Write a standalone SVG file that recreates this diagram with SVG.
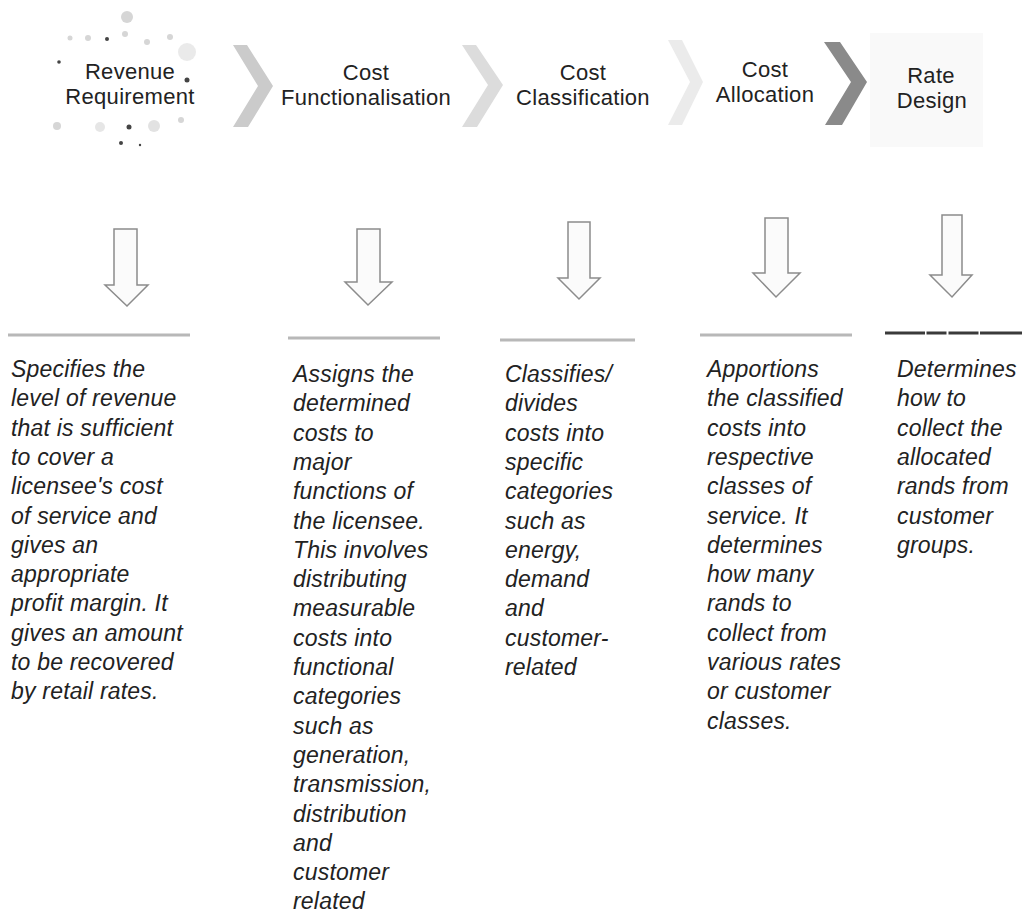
<svg xmlns="http://www.w3.org/2000/svg" width="1034" height="915" viewBox="0 0 1034 915">
<style>
.h{font-family:"Liberation Sans",Arial,sans-serif;font-size:22px;fill:#222;text-anchor:middle;letter-spacing:0.3px}
.d{font-family:"Liberation Sans",Arial,sans-serif;font-size:23px;font-style:italic;fill:#222;letter-spacing:0.2px}
.arr{fill:#fbfbfb;stroke:#8c8c8c;stroke-width:1.5;stroke-linejoin:miter}
.rule{stroke:#b8b8b8;stroke-width:3}
.dot{fill:#d6d6d6}
.dk{fill:#444}
</style>
<rect width="1034" height="915" fill="#fff"/>

<g id="decor-revenue">
  <circle class="dot" cx="127" cy="17" r="6"/>
  <circle class="dot" cx="70" cy="38" r="2.5"/>
  <circle class="dot" cx="88" cy="38" r="3"/>
  <circle class="dk" cx="107" cy="39" r="2"/>
  <circle class="dot" cx="125" cy="34" r="3"/>
  <circle class="dot" cx="147" cy="42" r="3"/>
  <circle class="dot" cx="170" cy="37" r="3"/>
  <circle class="dot" cx="187" cy="52" r="9" opacity="0.5"/>
  <circle class="dk" cx="59" cy="62" r="1.8"/>
  <circle class="dk" cx="187" cy="80" r="2.5"/>
  <circle class="dot" cx="57" cy="126" r="4"/>
  <circle class="dot" cx="100" cy="127" r="5" opacity="0.6"/>
  <circle class="dk" cx="129" cy="127" r="2.5"/>
  <circle class="dot" cx="154" cy="126" r="6" opacity="0.7"/>
  <circle class="dot" cx="181" cy="120" r="3"/>
  <circle class="dk" cx="121" cy="143" r="2"/>
  <circle class="dk" cx="140" cy="145" r="1.2"/>
</g>
<rect x="870" y="33" width="113" height="114" fill="#f9f9f9"/>

<g id="connectors">
  <polygon points="233,45 247,45 273,86 248,127 233,127 258,86" fill="#cbcbcb"/>
  <polygon points="462,45 476,45 503,85 477,127 462,127 488,85" fill="#dcdcdc"/>
  <polygon points="668,40 682,40 703,82 682,125 668,125 690,82" fill="#ebebeb"/>
  <polygon points="824,42 840,42 867,82 842,125 825,125 851,82" fill="#8a8a8a"/>
  <path class="arr" d="M114,229 H137 V285 H148 L127,306 L105,285 H114 Z"/>
  <path class="arr" d="M357,229 H380 V282 H392 L368,305 L345,282 H357 Z"/>
  <path class="arr" d="M568,222 H590 V278 H600 L579,299 L558,278 H568 Z"/>
  <path class="arr" d="M765,218 H788 V273 H800 L776,297 L753,273 H765 Z"/>
  <path class="arr" d="M942,215 H962 V275 H972 L952,297 L930,275 H942 Z"/>
</g>

<g id="node-revenue">
  <text class="h" x="130" y="79">Revenue</text>
  <text class="h" x="130" y="104">Requirement</text>
  <line class="rule" x1="8" y1="335" x2="190" y2="335"/>
  <text class="d" x="11" y="377">Specifies the</text>
  <text class="d" x="11" y="406.3">level of revenue</text>
  <text class="d" x="11" y="435.6">that is sufficient</text>
  <text class="d" x="11" y="464.9">to cover a</text>
  <text class="d" x="11" y="494.2">licensee's cost</text>
  <text class="d" x="11" y="523.5">of service and</text>
  <text class="d" x="11" y="552.8">gives an</text>
  <text class="d" x="11" y="582.1">appropriate</text>
  <text class="d" x="11" y="611.4">profit margin. It</text>
  <text class="d" x="11" y="640.7">gives an amount</text>
  <text class="d" x="11" y="670">to be recovered</text>
  <text class="d" x="11" y="699.3">by retail rates.</text>
</g>

<g id="node-functionalisation">
  <text class="h" x="366" y="80">Cost</text>
  <text class="h" x="366" y="105">Functionalisation</text>
  <line class="rule" x1="288" y1="338" x2="440" y2="338"/>
  <text class="d" x="293" y="382">Assigns the</text>
  <text class="d" x="293" y="411.3">determined</text>
  <text class="d" x="293" y="440.6">costs to</text>
  <text class="d" x="293" y="469.9">major</text>
  <text class="d" x="293" y="499.2">functions of</text>
  <text class="d" x="293" y="528.5">the licensee.</text>
  <text class="d" x="293" y="557.8">This involves</text>
  <text class="d" x="293" y="587.1">distributing</text>
  <text class="d" x="293" y="616.4">measurable</text>
  <text class="d" x="293" y="645.7">costs into</text>
  <text class="d" x="293" y="675">functional</text>
  <text class="d" x="293" y="704.3">categories</text>
  <text class="d" x="293" y="733.6">such as</text>
  <text class="d" x="293" y="762.9">generation,</text>
  <text class="d" x="293" y="792.2">transmission,</text>
  <text class="d" x="293" y="821.5">distribution</text>
  <text class="d" x="293" y="850.8">and</text>
  <text class="d" x="293" y="880.1">customer</text>
  <text class="d" x="293" y="909.4">related</text>
</g>

<g id="node-classification">
  <text class="h" x="583" y="80">Cost</text>
  <text class="h" x="583" y="105">Classification</text>
  <line class="rule" x1="500" y1="340" x2="635" y2="340"/>
  <text class="d" x="505" y="382">Classifies/</text>
  <text class="d" x="505" y="411.3">divides</text>
  <text class="d" x="505" y="440.6">costs into</text>
  <text class="d" x="505" y="469.9">specific</text>
  <text class="d" x="505" y="499.2">categories</text>
  <text class="d" x="505" y="528.5">such as</text>
  <text class="d" x="505" y="557.8">energy,</text>
  <text class="d" x="505" y="587.1">demand</text>
  <text class="d" x="505" y="616.4">and</text>
  <text class="d" x="505" y="645.7">customer-</text>
  <text class="d" x="505" y="675">related</text>
</g>

<g id="node-allocation">
  <text class="h" x="765" y="77">Cost</text>
  <text class="h" x="765" y="102">Allocation</text>
  <line class="rule" x1="700" y1="335" x2="852" y2="335"/>
  <text class="d" x="707" y="377">Apportions</text>
  <text class="d" x="707" y="406.3">the classified</text>
  <text class="d" x="707" y="435.6">costs into</text>
  <text class="d" x="707" y="464.9">respective</text>
  <text class="d" x="707" y="494.2">classes of</text>
  <text class="d" x="707" y="523.5">service. It</text>
  <text class="d" x="707" y="552.8">determines</text>
  <text class="d" x="707" y="582.1">how many</text>
  <text class="d" x="707" y="611.4">rands to</text>
  <text class="d" x="707" y="640.7">collect from</text>
  <text class="d" x="707" y="670">various rates</text>
  <text class="d" x="707" y="699.3">or customer</text>
  <text class="d" x="707" y="728.6">classes.</text>
</g>

<g id="node-rate-design">
  <text class="h" x="931" y="83">Rate</text>
  <text class="h" x="932" y="108">Design</text>
  <line x1="885" y1="333" x2="1022" y2="333" stroke="#3a3a3a" stroke-width="3" stroke-dasharray="40,1.5,20,2,30,1.5,45"/>
  <text class="d" x="897" y="377">Determines</text>
  <text class="d" x="897" y="406.3">how to</text>
  <text class="d" x="897" y="435.6">collect the</text>
  <text class="d" x="897" y="464.9">allocated</text>
  <text class="d" x="897" y="494.2">rands from</text>
  <text class="d" x="897" y="523.5">customer</text>
  <text class="d" x="897" y="552.8">groups.</text>
</g>
</svg>
